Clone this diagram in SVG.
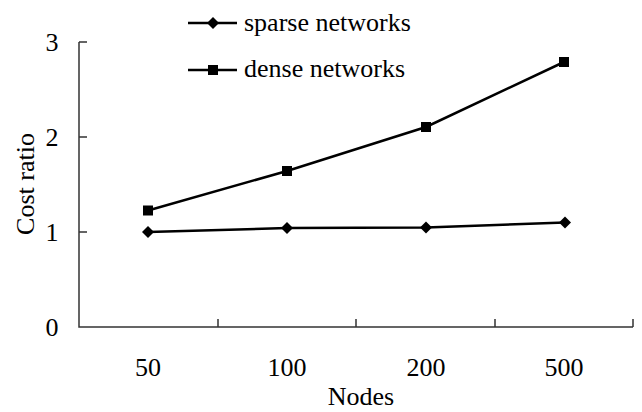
<svg xmlns="http://www.w3.org/2000/svg" width="642" height="412" viewBox="0 0 642 412">
<style>
text{font-family:'Liberation Serif','DejaVu Serif',serif;font-size:26px;fill:#000}
.ax{stroke:#333;stroke-width:1.5;fill:none}
.ser{stroke:#000;stroke-width:2.5;fill:none}
</style>
<defs>
<path id="dia" d="M0,-6 L6,0 L0,6 L-6,0 Z" fill="#000"/>
<rect id="sq" x="-5" y="-5" width="10" height="10" fill="#000"/>
</defs>
<rect width="642" height="412" fill="#fff"/>
<g id="axes">
<path class="ax" d="M79,42 V327 H633"/>
<path class="ax" d="M79,42 H87 M79,137 H87 M79,232 H87"/>
<path class="ax" d="M218,327 V319 M356,327 V319 M495,327 V319 M633,327 V319"/>
</g>
<g id="ylabels" text-anchor="middle">
<text x="52" y="51">3</text>
<text x="52" y="146">2</text>
<text x="52" y="241">1</text>
<text x="52" y="336">0</text>
</g>
<g id="xlabels" text-anchor="middle">
<text x="148" y="376">50</text>
<text x="287" y="376">100</text>
<text x="426" y="376">200</text>
<text x="564" y="376">500</text>
<text x="361" y="405">Nodes</text>
<text transform="translate(34,184) rotate(-90)">Cost ratio</text>
</g>
<g id="connectors">
<polyline class="ser" points="148,232 287,228 426,227.5 565,222.5"/>
<polyline class="ser" points="148,210.5 287,171 426,127 564,62"/>
</g>
<g id="sparse">
<use href="#dia" x="148" y="232"/>
<use href="#dia" x="287" y="228"/>
<use href="#dia" x="426" y="227.5"/>
<use href="#dia" x="565" y="222.5"/>
</g>
<g id="dense">
<use href="#sq" x="148" y="210.5"/>
<use href="#sq" x="287" y="171"/>
<use href="#sq" x="426" y="127"/>
<use href="#sq" x="564" y="62"/>
</g>
<g id="legend">
<line class="ser" x1="188" y1="23" x2="237" y2="23"/>
<use href="#dia" x="213" y="23"/>
<text x="244" y="31">sparse networks</text>
<line class="ser" x1="188" y1="70" x2="237" y2="70"/>
<use href="#sq" x="213" y="70"/>
<text x="244" y="77">dense networks</text>
</g>
</svg>
